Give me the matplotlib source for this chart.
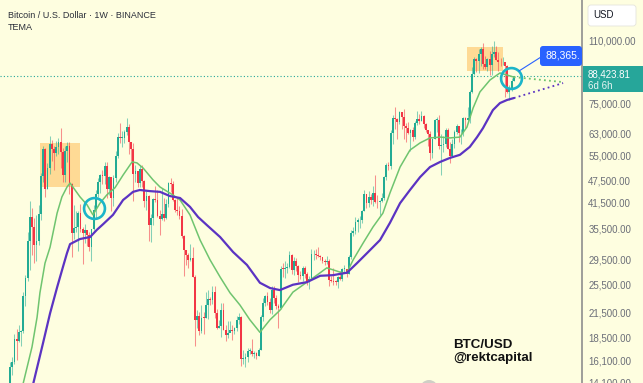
import matplotlib
matplotlib.use("Agg")
import matplotlib.pyplot as plt
import numpy as np
from matplotlib.patches import Rectangle, FancyBboxPatch, Circle
from matplotlib.lines import Line2D
from matplotlib.transforms import IdentityTransform

plt.rcParams['font.family'] = ['Liberation Sans', 'DejaVu Sans']

# ---------------- data (weekly BTC/USD, thousands of USD), Nov 2 2020 .. Mar 24 2025 ----------------
FIRST_OPEN = 13.55

CLOSE_2020 = [15.48, 15.96, 18.36, 18.18, 19.15, 19.27, 23.74, 26.44, 33.00]
HIGH_2020 = [15.97, 16.48, 18.95, 19.48, 19.90, 19.42, 24.30, 26.87, 34.78]
LOW_2020 = [13.29, 14.80, 15.78, 16.20, 18.00, 17.57, 19.00, 22.35, 25.90]

CLOSE_2021 = [38.15, 35.80, 32.25, 33.10, 38.90, 48.60, 57.40, 45.20, 51.00, 59.00, 57.35, 55.80, 58.00,
              59.80, 56.15, 49.00, 56.60, 58.20, 46.40, 34.70, 35.65, 35.80, 39.10, 35.50, 34.70, 35.30,
              34.25, 31.80, 35.40, 39.85, 43.80, 47.00, 48.90, 48.85, 51.80, 45.20, 48.30, 42.70, 48.20,
              55.00, 61.50, 61.30, 61.30, 63.30, 65.50, 59.70, 57.30, 49.40, 50.10, 46.70, 50.80, 47.30]
HIGH_2021 = [41.95, 40.10, 37.85, 38.50, 40.95, 49.70, 58.35, 57.50, 52.65, 61.80, 60.60, 58.40, 60.20,
             61.20, 64.85, 57.50, 58.45, 59.60, 59.70, 46.65, 40.90, 39.50, 39.55, 41.30, 36.00, 36.60,
             35.10, 34.90, 35.50, 40.90, 44.70, 48.15, 49.40, 50.50, 52.90, 52.95, 48.85, 47.40, 49.00,
             56.55, 62.95, 67.00, 63.70, 64.30, 69.00, 66.40, 59.40, 59.20, 51.90, 50.10, 52.10, 52.00]
LOW_2021 = [27.70, 30.40, 28.85, 29.25, 32.30, 37.35, 47.00, 43.00, 45.00, 49.30, 53.30, 50.40, 54.80,
            55.45, 51.00, 47.10, 47.05, 52.90, 43.80, 30.00, 33.40, 34.80, 31.00, 34.80, 28.80, 32.70,
            32.10, 31.05, 29.30, 35.20, 37.60, 43.00, 43.95, 46.30, 46.50, 42.80, 43.40, 39.60, 40.75,
            46.90, 54.40, 59.50, 57.80, 59.40, 62.30, 55.60, 53.25, 42.00, 47.10, 45.50, 45.55, 45.70]

CLOSE_2022 = [41.85, 43.10, 36.30, 37.90, 42.40, 42.20, 38.40, 37.70, 38.80, 37.80, 41.25, 46.80, 46.40,
              42.15, 39.70, 39.45, 38.45, 34.10, 31.30, 30.30, 29.45, 29.90, 26.60, 20.55, 21.05, 19.30,
              20.85, 20.80, 22.55, 23.30, 23.20, 24.30, 21.50, 19.55, 19.80, 21.85, 19.40, 18.80, 19.05,
              19.40, 19.20, 19.55, 20.60, 20.90, 16.30, 16.30, 16.45, 17.10, 17.10, 16.75, 16.85, 16.60]
HIGH_2022 = [47.60, 44.45, 43.50, 38.90, 42.65, 45.85, 44.75, 39.85, 45.40, 42.60, 42.40, 46.95, 48.20,
             47.20, 42.45, 42.95, 40.80, 40.00, 34.30, 31.30, 30.70, 32.40, 31.75, 26.90, 21.85, 21.55,
             22.50, 21.60, 24.30, 24.65, 23.65, 25.20, 25.20, 22.00, 20.55, 22.80, 22.70, 19.95, 20.40,
             20.45, 19.95, 19.70, 21.10, 21.45, 21.00, 17.20, 16.90, 17.40, 17.40, 18.40, 17.05, 16.95]
LOW_2022 = [40.50, 39.65, 33.00, 32.90, 36.25, 41.65, 38.00, 34.30, 37.50, 37.15, 37.55, 40.50, 44.20,
            41.90, 39.20, 38.55, 37.60, 33.70, 26.70, 28.65, 28.00, 29.30, 26.55, 17.60, 19.65, 18.80,
            19.05, 18.90, 20.75, 20.70, 22.45, 22.65, 20.80, 19.50, 19.55, 18.55, 19.35, 18.15, 18.47,
            19.10, 18.20, 18.90, 19.25, 20.05, 15.60, 15.80, 15.50, 16.00, 16.75, 16.55, 16.40, 16.30]

CLOSE_2023 = [17.15, 20.90, 22.70, 23.75, 22.95, 21.80, 24.65, 23.50, 22.40, 22.15, 27.98, 27.95, 28.15,
              28.30, 30.30, 27.80, 29.20, 28.40, 26.90, 26.75, 28.10, 27.10, 25.85, 26.30, 30.50, 30.60,
              30.30, 30.25, 30.05, 29.30, 29.05, 29.30, 26.10, 26.05, 25.85, 25.80, 26.55, 26.30, 27.95,
              27.95, 27.15, 29.95, 34.55, 35.00, 37.05, 37.35, 37.45, 39.45, 43.80, 41.35, 43.00, 42.30]
HIGH_2023 = [17.40, 21.25, 23.40, 23.95, 24.25, 23.45, 25.25, 25.15, 23.90, 22.60, 28.40, 28.85, 29.20,
             28.85, 31.00, 30.50, 30.00, 29.85, 28.65, 27.65, 28.45, 28.45, 27.40, 26.80, 31.40, 31.25,
             31.50, 31.80, 30.35, 29.95, 29.70, 30.25, 29.65, 26.80, 28.15, 26.10, 26.80, 27.50, 28.05,
             28.60, 27.95, 30.40, 35.20, 35.95, 38.00, 37.95, 38.40, 39.70, 44.70, 43.80, 44.40, 43.80]
LOW_2023 = [16.55, 17.15, 20.40, 22.30, 22.50, 21.40, 21.35, 22.75, 21.95, 19.55, 21.90, 26.60, 26.50,
            27.20, 28.15, 27.15, 26.95, 27.65, 25.80, 26.30, 25.90, 26.50, 25.35, 24.80, 26.25, 29.50,
            29.70, 29.95, 29.50, 28.85, 28.60, 28.70, 25.15, 25.75, 25.35, 25.40, 24.90, 26.20, 26.00,
            27.20, 26.55, 27.10, 29.70, 33.95, 34.50, 34.80, 35.65, 36.85, 39.45, 40.20, 40.55, 41.30]

CLOSE_2024 = [43.95, 41.75, 41.60, 42.05, 42.60, 48.30, 52.10, 51.70, 63.10, 68.95, 68.35, 67.20, 71.30,
              69.35, 65.65, 64.95, 63.10, 64.00, 61.55, 66.95, 68.50, 67.75, 69.65, 66.65, 64.25, 62.70,
              55.85, 60.80, 68.15, 68.25, 58.15, 58.70, 58.95, 64.20, 57.30, 54.85, 59.15, 63.55, 65.65,
              62.85, 62.85, 69.00, 67.95, 68.75, 80.40, 89.85, 97.90, 97.20, 101.10, 104.45, 95.20, 93.70,
              98.35]
HIGH_2024 = [45.90, 49.05, 43.60, 42.25, 43.90, 48.60, 52.80, 52.95, 64.00, 70.15, 73.75, 68.95, 71.75,
             71.35, 72.80, 66.90, 67.25, 64.75, 65.50, 67.70, 71.95, 70.60, 71.95, 70.20, 66.95, 63.35,
             63.85, 61.00, 68.35, 69.40, 70.00, 62.75, 61.80, 65.00, 64.95, 59.80, 60.65, 64.15, 66.50,
             65.60, 64.45, 69.40, 69.50, 73.60, 81.50, 93.45, 99.60, 98.70, 104.00, 105.25, 108.35, 99.95,
             99.00]
LOW_2024 = [40.75, 41.50, 40.30, 38.55, 41.80, 42.25, 47.70, 50.60, 50.90, 59.00, 64.55, 60.75, 66.55,
            64.50, 60.65, 59.60, 62.80, 56.55, 60.20, 60.75, 66.30, 66.65, 67.60, 65.10, 63.40, 58.40,
            53.50, 54.25, 60.65, 63.45, 57.10, 49.00, 56.10, 57.80, 57.20, 52.55, 54.60, 57.50, 62.65,
            59.85, 58.90, 62.05, 65.05, 67.45, 66.85, 80.20, 89.40, 90.80, 90.50, 94.15, 92.20, 92.50,
            91.55]

CLOSE_2025 = [94.50, 101.30, 102.65, 97.70, 96.45, 96.15, 96.25, 94.25, 80.70, 82.60, 86.10, 88.42]
HIGH_2025 = [102.75, 106.40, 109.60, 106.45, 102.50, 98.80, 99.50, 96.50, 95.00, 84.00, 87.45, 88.75]
LOW_2025 = [89.25, 89.25, 99.50, 97.50, 91.20, 94.10, 94.85, 78.25, 80.00, 76.60, 81.15, 85.95]

LAST_PRICE = 88423.81
LAST_LABEL = "88,423.81"
COUNTDOWN = "6d 6h"
CALLOUT_LABEL = "88,365."

# TEMA lines: week index -> value (thousands)
GREEN_IDX = [5.9, 10, 12.3, 13.6, 15.9, 18.2, 21.4, 23.6, 25.9, 27.3, 31.8, 35, 37.7, 40.9, 44, 47.7, 51.4,
             55.5, 57.7, 60.5, 65, 68.2, 74, 77.3, 81.8, 86.4, 90.9, 95.5, 100, 104.5, 109, 113.6, 118.2,
             122.7, 128.6, 135, 139.5, 144, 150, 153, 156, 160.5, 165, 169.5, 172.7, 177.3, 181.8, 186.4,
             190.9, 195.5, 200, 204.5, 207.7, 210.5, 213.6, 218.2, 222.7, 225.9, 229]
GREEN_K = [14.0, 17.5, 20.9, 24.2, 28.9, 31.8, 39.0, 43.0, 45.6, 46.7, 43.0, 41.0, 38.6, 41.4, 43.5, 45.4,
           49.0, 53.0, 52.7, 51.1, 47.6, 45.6, 43.5, 42.2, 38.6, 33.2, 29.5, 26.6, 24.2, 22.5, 20.6, 19.1,
           20.6, 21.8, 24.3, 25.8, 26.9, 28.1, 27.4, 27.2, 29.5, 32.6, 35.9, 39.0, 44.0, 51.4, 56.9, 59.4,
           61.2, 61.5, 61.2, 61.5, 65.3, 73.2, 80.6, 86.6, 90.3, 89.2, 88.1]
PURPLE_IDX = [10.5, 15, 18.2, 21.4, 24.1, 25.9, 27.3, 31.8, 36.4, 39.5, 42.3, 46.8, 51.4, 53.2, 55.9, 59,
              63.6, 68.2, 72.7, 77.3, 81.8, 85.5, 89.5, 95.5, 101.4, 107.7, 113.6, 118.2, 122.7, 128.6,
              135, 141, 146.8, 153.2, 157.7, 162.3, 168.2, 172.7, 177.3, 181.8, 186.4, 190.9, 195.5, 200,
              204.5, 209, 212.3, 215, 219.5, 222.7, 225.9, 229]
PURPLE_K = [14.0, 17.9, 21.4, 25.0, 28.3, 30.7, 32.4, 33.4, 33.8, 35.3, 36.5, 38.6, 42.2, 43.0, 44.3, 44.8,
            44.5, 44.3, 43.2, 42.7, 40.5, 38.1, 36.3, 33.8, 30.9, 28.6, 25.7, 24.9, 24.6, 25.4, 25.8, 26.8,
            26.9, 27.3, 28.9, 30.7, 33.2, 36.8, 41.4, 44.8, 48.4, 51.4, 53.0, 54.3, 55.3, 58.0, 61.5, 64.9,
            72.3, 75.4, 76.8, 77.7]
PROJ_IDX = 251.4
GREEN_PROJ_K = 85.5
PURPLE_PROJ_K = 85.0

# highlighted zones (week index range, price range in thousands) and circles
ZONES = [(13.6, 31.8, 45.6, 59.4), (207.7, 224.3, 91.4, 105.5)]
CIRCLES = [(38.2, 40.2), (227.7, 87.6)]

TICK_K = [14.1, 16.1, 18.5, 21.5, 25.5, 29.5, 35.5, 41.5, 47.5, 55.0, 63.0, 75.0, 110.0]
TICK_LABELS = ["14,100.00", "16,100.00", "18,500.00", "21,500.00", "25,500.00", "29,500.00",
               "35,500.00", "41,500.00", "47,500.00", "55,000.00", "63,000.00", "75,000.00",
               "110,000.00"]

TITLE = "Bitcoin / U.S. Dollar · 1W · BINANCE"
SUBTITLE = "TEMA"
WATERMARK = ["BTC/USD", "@rektcapital"]

# ---------------- styling ----------------
W, H = 643, 383
BG = "#fefee0"
UP = "#22ab94"
DOWN = "#f23645"
GREEN = "#6fc46f"
PURPLE = "#5b33c2"
CYAN = "#1cb5c9"
TEAL = "#26a69a"
BLUE = "#2962ff"
AXR = 582

fig = plt.figure(figsize=(W / 100, H / 100), dpi=100)
fig.patch.set_facecolor(BG)
ax = fig.add_axes([0, 0, AXR / W, 1])
ax.set_facecolor(BG)
ax.set_yscale("log")
ax.set_ylim(14.10, 139.8)
ax.set_xlim(-4.55, 260.0)

close = np.array(CLOSE_2020 + CLOSE_2021 + CLOSE_2022 + CLOSE_2023 + CLOSE_2024 + CLOSE_2025)
high = np.array(HIGH_2020 + HIGH_2021 + HIGH_2022 + HIGH_2023 + HIGH_2024 + HIGH_2025)
low = np.array(LOW_2020 + LOW_2021 + LOW_2022 + LOW_2023 + LOW_2024 + LOW_2025)
opn = np.r_[FIRST_OPEN, close[:-1]]
idx = np.arange(len(close))
up = close >= opn
cols = np.where(up, UP, DOWN)

# zones
for x0, x1, y0, y1 in ZONES:
    ax.add_patch(Rectangle((x0, y0), x1 - x0, y1 - y0, facecolor="#ffd488", alpha=0.85,
                           edgecolor="none", zorder=1))

# last price dotted line
ax.axhline(LAST_PRICE / 1000, color=TEAL, lw=0.8, ls=(0, (1, 2)), zorder=1.5)

# candles
ax.vlines(idx, low, high, colors=cols, lw=0.75, alpha=0.55, zorder=2)
body_h = np.maximum(np.abs(close - opn), close * 0.004)
ax.bar(idx, body_h, bottom=np.minimum(opn, close), width=0.82, color=cols, linewidth=0, zorder=3)

# TEMA lines
ax.plot(GREEN_IDX, GREEN_K, color=GREEN, lw=1.1, zorder=4, solid_capstyle="round")
ax.plot(PURPLE_IDX, PURPLE_K, color=PURPLE, lw=1.6, zorder=4, solid_capstyle="round")
ax.plot([GREEN_IDX[-1], PROJ_IDX], [GREEN_K[-1], GREEN_PROJ_K], color=GREEN, lw=1.3,
        ls=(0, (1, 1.8)), zorder=4)
ax.plot([PURPLE_IDX[-1], PROJ_IDX], [PURPLE_K[-1], PURPLE_PROJ_K], color=PURPLE, lw=1.3,
        ls=(0, (1, 1.8)), zorder=4)

# circles
for cx, cy in CIRCLES:
    ax.plot([cx], [cy], "o", ms=15, mfc="none", mec=CYAN, mew=1.9, zorder=6)

# axes styling
ax.yaxis.tick_right()
ax.set_yticks(TICK_K, labels=TICK_LABELS)
ax.set_yticks([], minor=True)
ax.set_xticks([])
ax.tick_params(axis="y", length=0, pad=4.5, labelsize=7, labelcolor="#6b6e78")
for s in ["top", "left", "bottom"]:
    ax.spines[s].set_visible(False)
ax.spines["right"].set_color("#8e8e8e")
ax.spines["right"].set_linewidth(1.2)

# title texts
fig.text(8 / W, 1 - 18 / H, TITLE, fontsize=6.5, color="#2a2e39", va="baseline")
fig.text(8 / W, 1 - 30 / H, SUBTITLE, fontsize=6.5, color="#2a2e39", va="baseline")

# watermark
fig.text(453 / W, 1 - 348 / H, WATERMARK[0], fontsize=9.6, fontweight="bold", color="#111111",
         va="baseline")
fig.text(453 / W, 1 - 361.5 / H, WATERMARK[1], fontsize=9.6, fontweight="bold", color="#111111",
         va="baseline")
fig.add_artist(Circle((429, -6), 9, transform=IdentityTransform(), facecolor="#cfcfc6",
                      edgecolor="none"))

# right-side last price box
y_disp = ax.transData.transform((0, LAST_PRICE / 1000))[1]
fig.add_artist(Rectangle((AXR + 1, y_disp - 15.5), W - AXR, 25.5, transform=IdentityTransform(),
                         facecolor=TEAL, edgecolor="none"))
fig.text((AXR + 6) / W, (y_disp + 1.5) / H, LAST_LABEL, fontsize=7, color="white", va="center")
fig.text((AXR + 6) / W, (y_disp - 9.5) / H, COUNTDOWN, fontsize=7, color="#e6f4f2", va="center")

# USD box
fig.add_artist(FancyBboxPatch((588, H - 26), 48, 21, boxstyle="round,pad=0,rounding_size=3",
                              transform=IdentityTransform(), facecolor="white",
                              edgecolor="#e4e4dc", lw=0.6))
fig.text(593 / W, 1 - 15.5 / H, "USD", fontsize=7, color="#131722", va="center")

# callout label
fig.add_artist(FancyBboxPatch((540, H - 66), AXR - 540, 20, boxstyle="round,pad=0,rounding_size=3",
                              transform=IdentityTransform(), facecolor=BLUE, edgecolor="none"))
fig.text(546 / W, 1 - 56 / H, CALLOUT_LABEL, fontsize=7.5, color="white", va="center")
fig.add_artist(Line2D([519, 541], [H - 71, H - 57], transform=IdentityTransform(), color=BLUE, lw=0.8))

fig.savefig("out.png", dpi=100, facecolor=BG)
